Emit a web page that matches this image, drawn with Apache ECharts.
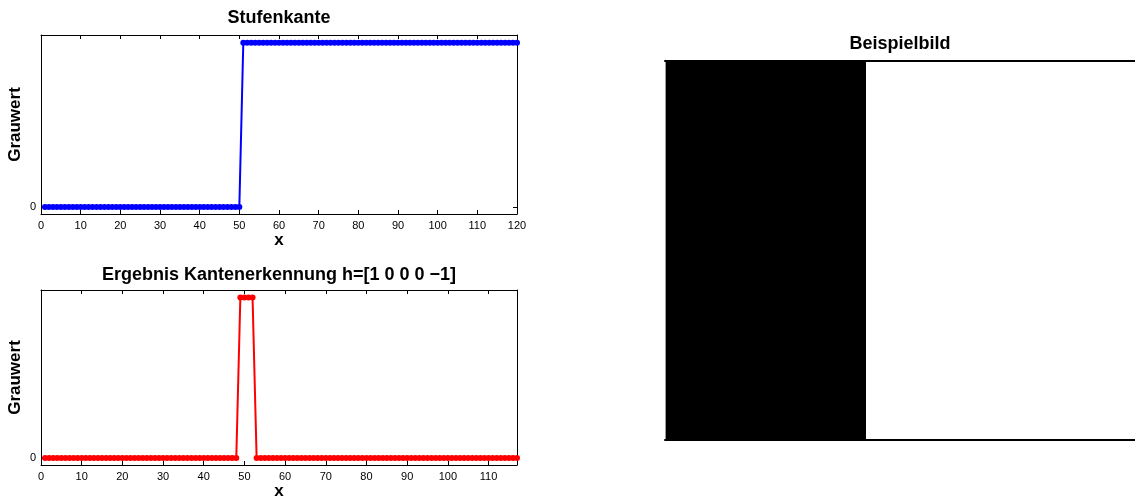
<!DOCTYPE html>
<html>
<head>
<meta charset="utf-8">
<script src="https://cdn.jsdelivr.net/npm/echarts@6/dist/echarts.min.js"></script>
<style>
  html, body { margin: 0; padding: 0; background: #fff; }
  #chart { width: 1135px; height: 501px; }
</style>
</head>
<body>
<div id="chart"></div>
<script>
// Step edge: grey value 0 for x = 1..50, 255 for x = 51..120
const stufeX = [1,2,3,4,5,6,7,8,9,10,11,12,13,14,15,16,17,18,19,20,21,22,23,24,25,26,27,28,29,30,31,32,33,34,35,36,37,38,39,40,41,42,43,44,45,46,47,48,49,50,51,52,53,54,55,56,57,58,59,60,61,62,63,64,65,66,67,68,69,70,71,72,73,74,75,76,77,78,79,80,81,82,83,84,85,86,87,88,89,90,91,92,93,94,95,96,97,98,99,100,101,102,103,104,105,106,107,108,109,110,111,112,113,114,115,116,117,118,119,120];
const stufeY = [0,0,0,0,0,0,0,0,0,0,0,0,0,0,0,0,0,0,0,0,0,0,0,0,0,0,0,0,0,0,0,0,0,0,0,0,0,0,0,0,0,0,0,0,0,0,0,0,0,0,255,255,255,255,255,255,255,255,255,255,255,255,255,255,255,255,255,255,255,255,255,255,255,255,255,255,255,255,255,255,255,255,255,255,255,255,255,255,255,255,255,255,255,255,255,255,255,255,255,255,255,255,255,255,255,255,255,255,255,255,255,255,255,255,255,255,255,255,255,255];

// Filter response of h = [1 0 0 0 -1]
const kanteX = [1,2,3,4,5,6,7,8,9,10,11,12,13,14,15,16,17,18,19,20,21,22,23,24,25,26,27,28,29,30,31,32,33,34,35,36,37,38,39,40,41,42,43,44,45,46,47,48,49,50,51,52,53,54,55,56,57,58,59,60,61,62,63,64,65,66,67,68,69,70,71,72,73,74,75,76,77,78,79,80,81,82,83,84,85,86,87,88,89,90,91,92,93,94,95,96,97,98,99,100,101,102,103,104,105,106,107,108,109,110,111,112,113,114,115,116,117];
const kanteY = [0,0,0,0,0,0,0,0,0,0,0,0,0,0,0,0,0,0,0,0,0,0,0,0,0,0,0,0,0,0,0,0,0,0,0,0,0,0,0,0,0,0,0,0,0,0,0,0,255,255,255,255,0,0,0,0,0,0,0,0,0,0,0,0,0,0,0,0,0,0,0,0,0,0,0,0,0,0,0,0,0,0,0,0,0,0,0,0,0,0,0,0,0,0,0,0,0,0,0,0,0,0,0,0,0,0,0,0,0,0,0,0,0,0,0,0,0];

// One row of the sample image (117 columns, 50 black)
const bildZeile = [0,0,0,0,0,0,0,0,0,0,0,0,0,0,0,0,0,0,0,0,0,0,0,0,0,0,0,0,0,0,0,0,0,0,0,0,0,0,0,0,0,0,0,0,0,0,0,0,0,0,255,255,255,255,255,255,255,255,255,255,255,255,255,255,255,255,255,255,255,255,255,255,255,255,255,255,255,255,255,255,255,255,255,255,255,255,255,255,255,255,255,255,255,255,255,255,255,255,255,255,255,255,255,255,255,255,255,255,255,255,255,255,255,255,255,255,255];

// Tick labels
const xTicksOben = [0,10,20,30,40,50,60,70,80,90,100,110,120];
const xTicksUnten = [0,10,20,30,40,50,60,70,80,90,100,110];
const yTicks = [0];

const FONT = 'Liberation Sans, Arial, Helvetica, sans-serif';
const Y_MIN = -11, Y_MAX = 267;
const labelName = { fontFamily: FONT, fontWeight: 'bold', fontSize: 17, color: '#000' };

function bottomX(gridIndex, max, ticks) {
  return {
    type: 'value', gridIndex, min: 0, max, position: 'bottom',
    name: 'x', nameLocation: 'middle', nameGap: 18,
    nameTextStyle: labelName,
    axisLine: { show: true, onZero: false, lineStyle: { color: '#000', width: 1 } },
    axisTick: { show: true, inside: true, length: 4, customValues: ticks, lineStyle: { color: '#000' } },
    axisLabel: { customValues: ticks, margin: 6, fontFamily: FONT, fontSize: 11, color: '#000' },
    splitLine: { show: false }
  };
}
function topX(gridIndex, max, ticks) {
  return {
    type: 'value', gridIndex, min: 0, max, position: 'top',
    axisLine: { show: true, onZero: false, lineStyle: { color: '#000', width: 1 } },
    axisTick: { show: true, inside: true, length: 4, customValues: ticks, lineStyle: { color: '#000' } },
    axisLabel: { show: false },
    splitLine: { show: false }
  };
}
function leftY(gridIndex) {
  return {
    type: 'value', gridIndex, min: Y_MIN, max: Y_MAX, position: 'left',
    name: 'Grauwert', nameLocation: 'middle', nameGap: 17, nameRotate: 90,
    nameTextStyle: labelName,
    axisLine: { show: true, onZero: false, lineStyle: { color: '#000', width: 1 } },
    axisTick: { show: true, inside: true, length: 4, customValues: yTicks, lineStyle: { color: '#000' } },
    axisLabel: { customValues: yTicks, margin: 5, fontFamily: FONT, fontSize: 11, color: '#000' },
    splitLine: { show: false }
  };
}
function rightY(gridIndex) {
  return {
    type: 'value', gridIndex, min: Y_MIN, max: Y_MAX, position: 'right',
    axisLine: { show: true, onZero: false, lineStyle: { color: '#000', width: 1 } },
    axisTick: { show: true, inside: true, length: 4, customValues: yTicks, lineStyle: { color: '#000' } },
    axisLabel: { show: false },
    splitLine: { show: false }
  };
}

// Grey level 0..255 -> css colour
function grau(v) {
  const g = Math.round(v);
  return 'rgb(' + g + ',' + g + ',' + g + ')';
}

const chart = echarts.init(document.getElementById('chart'), null, { renderer: 'canvas' });

const titleStyle = { fontFamily: FONT, fontWeight: 'bold', fontSize: 18, color: '#000' };

chart.setOption({
  animation: false,
  backgroundColor: '#fff',
  title: [
    { text: 'Stufenkante', left: 279, top: 9, textAlign: 'center', textStyle: titleStyle, padding: 0 },
    { text: 'Ergebnis Kantenerkennung h=[1 0 0 0 \u22121]', left: 279, top: 266, textAlign: 'center', textStyle: titleStyle, padding: 0 },
    { text: 'Beispielbild', left: 900, top: 35, textAlign: 'center', textStyle: titleStyle, padding: 0 }
  ],
  grid: [
    { left: 41, top: 35, width: 476, height: 179 },
    { left: 41, top: 290, width: 476, height: 178 },
    { left: 665, top: 61, width: 470, height: 379 }
  ],
  xAxis: [
    bottomX(0, 120, xTicksOben),
    topX(0, 120, xTicksOben),
    bottomX(1, 117, xTicksUnten),
    topX(1, 117, xTicksUnten),
    { type: 'value', gridIndex: 2, min: 0, max: bildZeile.length, position: 'bottom', z: 5,
      axisLine: { show: true, onZero: false, lineStyle: { color: '#000', width: 2 } },
      axisTick: { show: false }, axisLabel: { show: false }, splitLine: { show: false } },
    { type: 'value', gridIndex: 2, min: 0, max: bildZeile.length, position: 'top', z: 5,
      axisLine: { show: true, onZero: false, lineStyle: { color: '#000', width: 2 } },
      axisTick: { show: false }, axisLabel: { show: false }, splitLine: { show: false } }
  ],
  yAxis: [
    leftY(0), rightY(0), leftY(1), rightY(1),
    { type: 'value', gridIndex: 2, min: 0, max: 1, position: 'left', z: 5,
      axisLine: { show: true, onZero: false, lineStyle: { color: '#999', width: 1 } },
      axisTick: { show: false }, axisLabel: { show: false }, splitLine: { show: false } }
  ],
  series: [
    {
      type: 'line', xAxisIndex: 0, yAxisIndex: 0,
      data: stufeX.map((x, i) => [x, stufeY[i]]),
      symbol: 'circle', symbolSize: 6, showAllSymbol: true,
      lineStyle: { color: '#0000ff', width: 2 },
      itemStyle: { color: '#0000ff' }
    },
    {
      type: 'line', xAxisIndex: 2, yAxisIndex: 2,
      data: kanteX.map((x, i) => [x, kanteY[i]]),
      symbol: 'circle', symbolSize: 6, showAllSymbol: true,
      lineStyle: { color: '#ff0000', width: 2 },
      itemStyle: { color: '#ff0000' }
    },
    {
      // image columns: one cell per pixel column, snapped to whole pixels
      type: 'custom', xAxisIndex: 4, yAxisIndex: 4, z: 1,
      data: bildZeile.map((v, i) => [i, v]),
      encode: { x: 0 },
      renderItem: function (params, api) {
        const i = api.value(0);
        const p0 = api.coord([i, 1]);
        const p1 = api.coord([i + 1, 0]);
        const x0 = Math.round(p0[0]);
        const x1 = Math.round(p1[0]);
        const y0 = Math.round(p0[1]) + 1;
        const y1 = Math.round(p1[1]) - 1;
        return {
          type: 'rect',
          shape: { x: x0, y: y0, width: x1 - x0, height: y1 - y0 },
          style: { fill: grau(api.value(1)), lineWidth: 0 }
        };
      }
    }
  ]
});
</script>
</body>
</html>
